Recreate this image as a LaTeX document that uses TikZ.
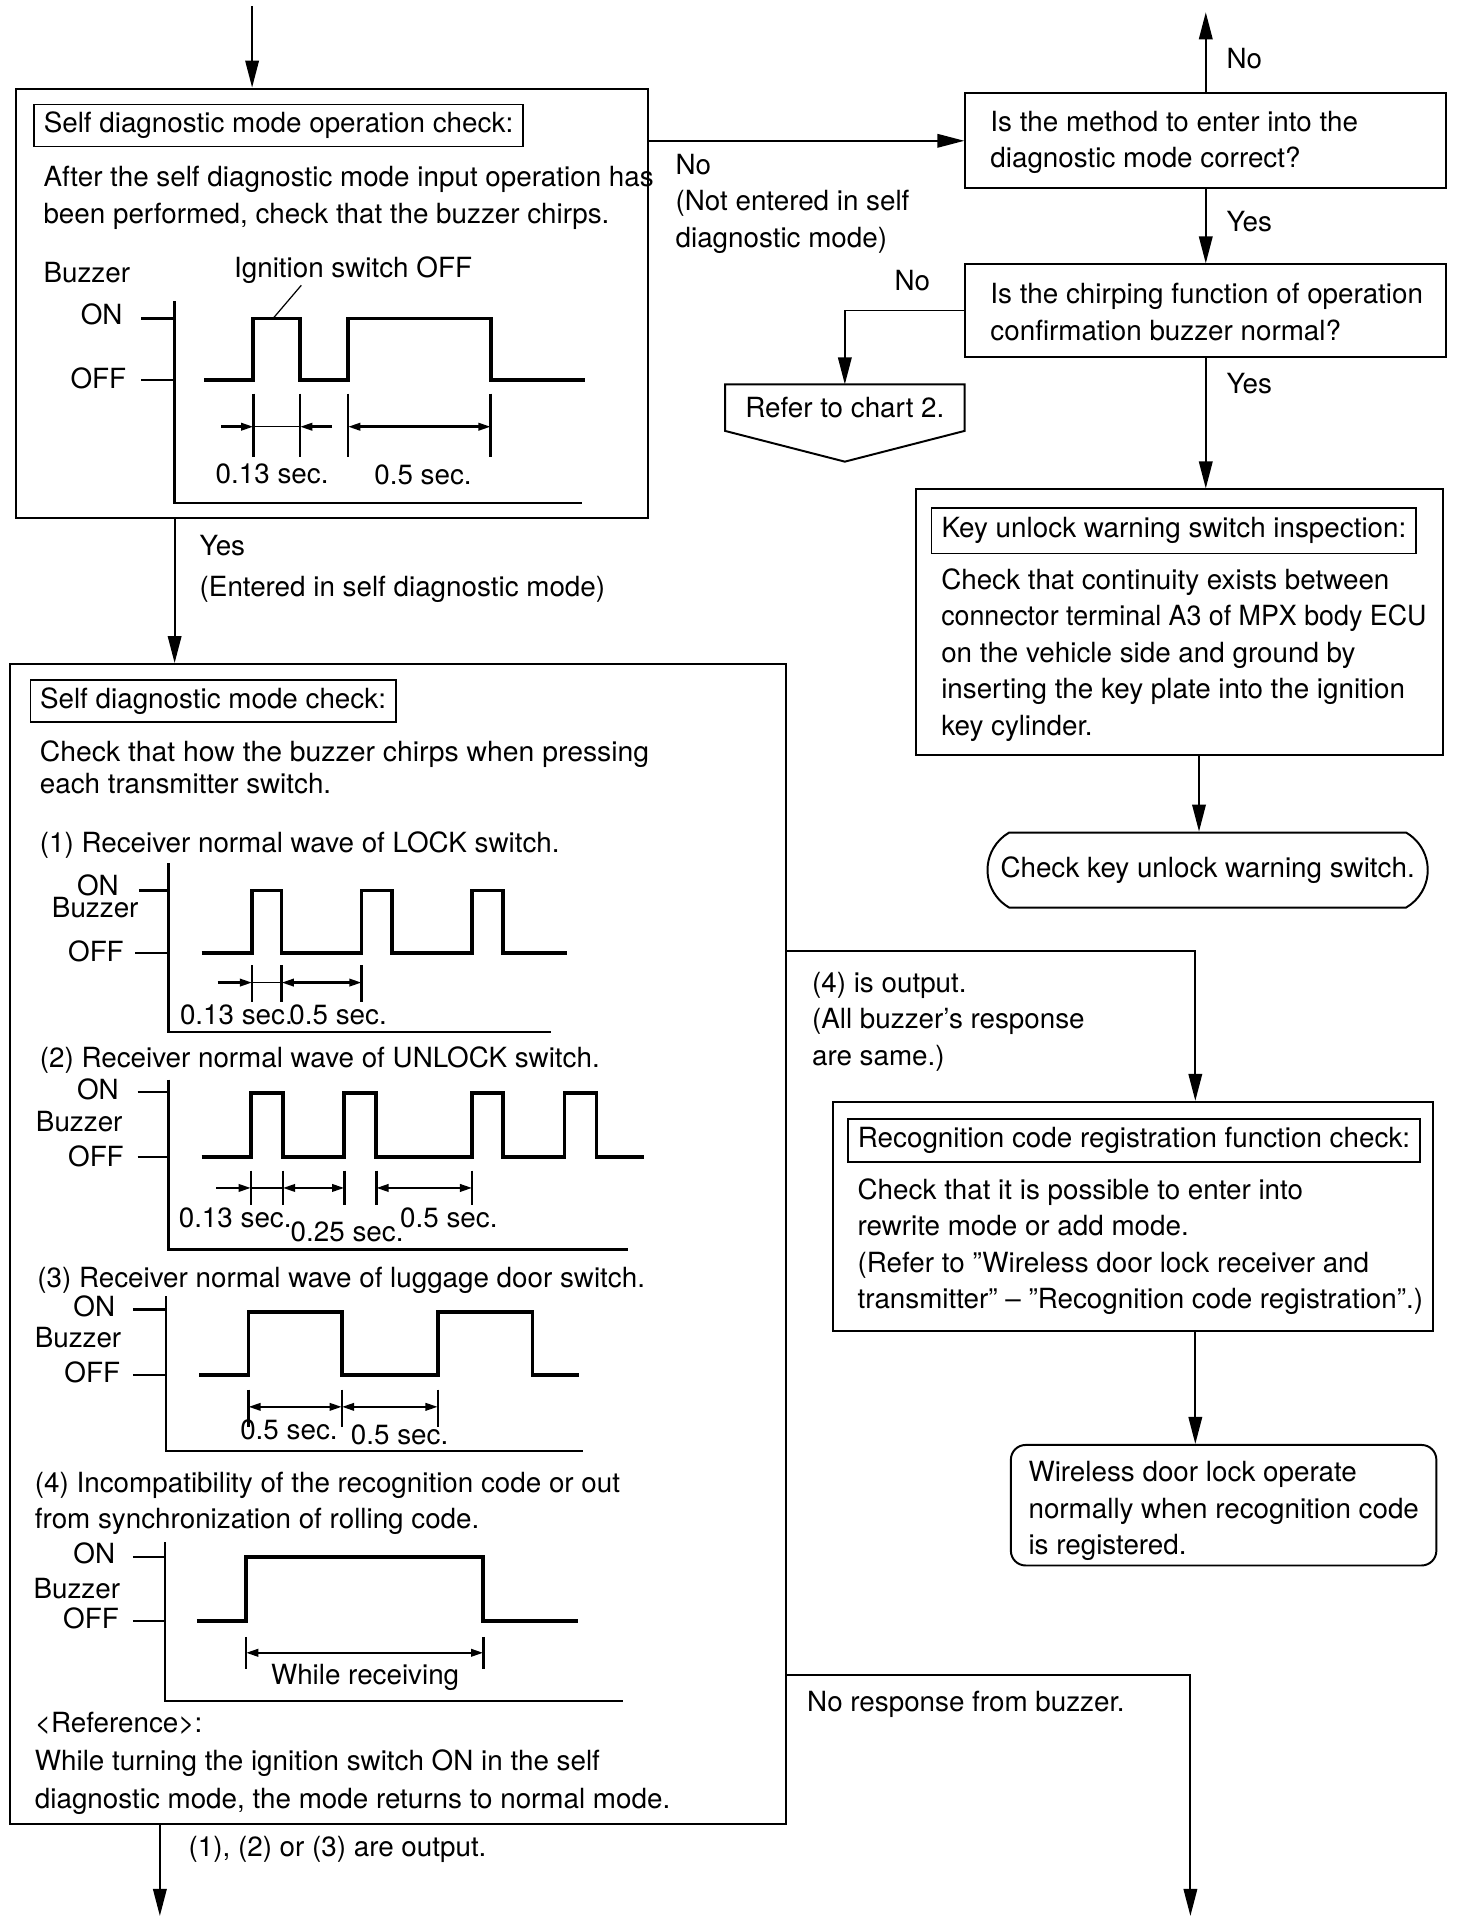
\documentclass[tikz,border=0pt]{standalone}
\usepackage{fontspec}
\setmainfont{TeX Gyre Heros}
\usetikzlibrary{arrows.meta,fit,shapes.misc}

\def\px{0.5pt}
\newcommand{\fs}[1]{\fontsize{11.3}{#1}\selectfont}

\tikzset{
  every node/.style={font=\fs{14.85}, inner sep=0pt},
  bigbox/.style={draw, line width=0.8pt, inner sep=0pt},
  ttl/.style={draw, line width=0.6pt, anchor=west, inner xsep=4pt, minimum height=17pt},
  txt/.style={anchor=north west, align=left},
  lbl/.style={anchor=west},
  lvl/.style={anchor=east},
  flow/.style={line width=0.8pt, -{Triangle[length=11pt,width=5.5pt]}},
  wave/.style={line width=1.5pt},
  axisln/.style={line width=1pt},
  dimtick/.style={line width=1pt},
  dimto/.style={line width=1pt, -{Triangle[length=5pt,width=3pt]}},
  dimboth/.style={line width=1pt, {Triangle[length=5pt,width=3pt]}-{Triangle[length=5pt,width=3pt]}},
}

\begin{document}
\begin{tikzpicture}[x=\px, y=-\px]
  \useasboundingbox (0,0) rectangle (1197,1567.8);

  % boxes
  \node[bigbox, fit={(13,72) (527,421)}] (opchk) {};
  \node[bigbox, fit={(785,76) (1176,153)}] (method) {};
  \node[bigbox, fit={(785,215) (1176,290)}] (chirp) {};
  \node[bigbox, fit={(745,398) (1173,614)}] (keyinsp) {};
  \node[bigbox, fit={(8,540) (639,1483)}] (modechk) {};
  \node[bigbox, fit={(677,896) (1165,1082)}] (recog) {};
  \node[bigbox, rounded corners=6pt, fit={(822,1175) (1168,1273)}] (wdl) {};
  \node[draw, rounded rectangle, rounded rectangle arc length=120, line width=0.8pt,
        minimum width=179pt, minimum height=30.5pt] (chkkey) at (982,707.5) {Check key unlock warning switch.};
  \node[minimum width=97pt, minimum height=18.5pt] (chart2) at (687,331.5) {Refer to chart 2.};
  \draw[line width=0.8pt] (chart2.north west) -- (chart2.north east) -- (chart2.south east)
    -- ([yshift=-12.5pt]chart2.south) -- (chart2.south west) -- cycle;

  % lanes
  \coordinate (topin) at (205,5);
  \coordinate (upout) at (978,10);
  \coordinate (yeslane) at (142,0);
  \coordinate (outlane) at (130,1558);
  \coordinate (keylane) at (975,0);
  \coordinate (lane4) at (972,773);
  \coordinate (lane5) at (968,1362);
  \coordinate (noresp) at (968,1558);

  % connectors
  \draw[flow] (topin) -- (topin |- opchk.north);
  \draw[flow] (method.west -| opchk.east) -- (method.west);
  \draw[flow] (method.north) -- (method.north |- upout);
  \draw[flow] (method.south) -- (chirp.north);
  \draw[flow] (chirp.west) -| (chart2.north);
  \draw[flow] (chirp.south) -- (chirp.south |- keyinsp.north);
  \draw[flow] (keylane |- keyinsp.south) -- (keylane |- chkkey.north);
  \draw[flow] (yeslane |- opchk.south) -- (yeslane |- modechk.north);
  \draw[flow] (outlane |- modechk.south) -- (outlane);
  \draw[flow] (lane4 -| modechk.east) -| (lane4 |- recog.north);
  \draw[flow] (lane4 |- recog.south) -- (lane4 |- wdl.north);
  \draw[flow] (lane5 -| modechk.east) -| (noresp);

  % connector labels
  \node[txt] (noentered) at (549,125) {No\\(Not entered in self\\diagnostic mode)};
  \node[lbl] (nomethod) at (997,48) {No};
  \node[lbl] (yesmethod) at (997,180) {Yes};
  \node[lbl] (nochirp) at (727,228) {No};
  \node[lbl] (yeschirp) at (997,312) {Yes};
  \node[txt, font=\fs{16.5}] (yesentered) at (162,435) {Yes\\(Entered in self diagnostic mode)};
  \node[txt] (out4) at (660,790) {(4) is output.\\(All buzzer's response\\are same.)};
  \node[lbl] (noresptxt) at (656,1386) {No response from buzzer.};
  \node[lbl] (out123) at (153,1504) {(1), (2) or (3) are output.};

  % operation check
  \node[ttl] (opchkttl) at (27,102) {Self diagnostic mode operation check:};
  \node[txt] (opchktxt) at (35,135) {After the self diagnostic mode input operation has\\been performed, check that the buzzer chirps.};
  \node[lbl] (bz0) at (35,222) {Buzzer};
  \node[lbl] (ign0) at (190,220) {Ignition switch OFF};
  \node[lvl] (on0) at (100,256) {ON};
  \node[lvl] (off0) at (103,308) {OFF};
  \node[lbl] (t0a) at (175,385) {0.13 sec.};
  \node[lbl] (t0b) at (304,386) {0.5 sec.};
  \draw[axisln] (142,245) -- (142,409) -- (473,409);
  \draw[axisln] (115,259) -- (142,259) (115,309) -- (142,309);
  \draw[wave] (166,309) -- (206,309) -- (206,259) -- (244,259) -- (244,309) -- (283,309)
    -- (283,259) -- (399,259) -- (399,309) -- (476,309);
  \draw[line width=0.5pt] (245,232) -- (222,259);
  \foreach \x in {206,244,283,399} {
    \draw[dimtick] (\x,320) -- (\x,372);
  }
  \draw[dimto] (180,347) -- (206,347);
  \draw[line width=0.5pt] (206,347) -- (244,347);
  \draw[dimto] (270,347) -- (244,347);
  \draw[dimboth] (283,347) -- (399,347);

  % method / chirp texts
  \node[txt] (methodtxt) at (805,90) {Is the method to enter into the\\diagnostic mode correct?};
  \node[txt] (chirptxt) at (805,230) {Is the chirping function of operation\\confirmation buzzer normal?};

  % key unlock inspection
  \node[ttl, minimum height=18.5pt] (keyttl) at (757,431.5) {Key unlock warning switch inspection:};
  \node[txt] (keytxt) at (765,462) {Check that continuity exists between\\\scalebox{0.965}[1]{connector terminal A3 of MPX body ECU}\\on the vehicle side and ground by\\inserting the key plate into the ignition\\key cylinder.};

  % self diagnostic mode check
  \node[ttl] (modettl) at (24,570) {Self diagnostic mode check:};
  \node[txt, font=\fs{13}] (modetxt) at (32,602) {\scalebox{1.02}[1]{Check that how the buzzer chirps when pressing}\\each transmitter switch.};

  % (1) LOCK
  \node[lbl] (w1ttl) at (32,687) {(1) Receiver normal wave of LOCK switch.};
  \node[lvl] (on1) at (97,720) {ON};
  \node[lvl] (bz1) at (113,738) {Buzzer};
  \node[lvl] (off1) at (101,774) {OFF};
  \draw[axisln] (137,702) -- (137,839) -- (448,839);
  \draw[axisln] (113,724) -- (137,724) (110,775) -- (137,775);
  \draw[wave] (164,775) -- (205,775) -- (205,724) -- (229,724) -- (229,775) -- (294,775)
    -- (294,724) -- (319,724) -- (319,775) -- (384,775) -- (384,724) -- (409,724)
    -- (409,775) -- (461,775);
  \foreach \x in {205,229,294} {
    \draw[dimtick] (\x,785) -- (\x,815);
  }
  \draw[dimto] (177,799) -- (205,799);
  \draw[line width=0.5pt] (205,799) -- (229,799);
  \draw[dimboth] (229,799) -- (294,799);
  \node[lbl] (t1a) at (146,825) {0.13 sec.};
  \node[lbl] (t1b) at (235,825) {0.5 sec.};

  % (2) UNLOCK
  \node[lbl] (w2ttl) at (32,862) {(2) Receiver normal wave of UNLOCK switch.};
  \node[lvl] (on2) at (97,886) {ON};
  \node[lvl] (bz2) at (100,912) {Buzzer};
  \node[lvl] (off2) at (101,940) {OFF};
  \draw[axisln] (137,878) -- (137,1016) -- (511,1016);
  \draw[axisln] (112,888) -- (137,888) (112,941) -- (137,941);
  \draw[wave] (164,941) -- (204,941) -- (204,889) -- (230,889) -- (230,941) -- (280,941)
    -- (280,889) -- (306,889) -- (306,941) -- (384,941) -- (384,889) -- (409,889)
    -- (409,941) -- (459,941) -- (459,889) -- (485,889) -- (485,941) -- (524,941);
  \foreach \x in {204,230,280,306,384} {
    \draw[dimtick] (\x,952) -- (\x,980);
  }
  \draw[dimto] (176,966) -- (204,966);
  \draw[line width=0.5pt] (204,966) -- (230,966);
  \draw[dimboth] (230,966) -- (280,966);
  \draw[dimboth] (306,966) -- (384,966);
  \node[lbl] (t2a) at (145,990) {0.13 sec.};
  \node[lbl] (t2b) at (236,1002) {0.25 sec.};
  \node[lbl] (t2c) at (325,990) {0.5 sec.};

  % (3) luggage door
  \node[lbl] (w3ttl) at (30,1041) {(3) Receiver normal wave of luggage door switch.};
  \node[lvl] (on3) at (94,1062) {ON};
  \node[lvl] (bz3) at (99,1088) {Buzzer};
  \node[lvl] (off3) at (98,1116) {OFF};
  \draw[axisln] (135,1054) -- (135,1180) -- (474,1180);
  \draw[axisln] (108,1065) -- (135,1065) (108,1118) -- (135,1118);
  \draw[wave] (162,1118) -- (202,1118) -- (202,1067) -- (278,1067) -- (278,1118) -- (356,1118)
    -- (356,1067) -- (433,1067) -- (433,1118) -- (471,1118);
  \foreach \x in {202,278,356} {
    \draw[dimtick] (\x,1130) -- (\x,1160);
  }
  \draw[dimboth] (202,1144) -- (278,1144);
  \draw[dimboth] (278,1144) -- (356,1144);
  \node[lbl] (t3a) at (195,1163) {0.5 sec.};
  \node[lbl] (t3b) at (285,1167) {0.5 sec.};

  % (4) incompatibility
  \node[txt, font=\fs{14.5}] (w4ttl) at (28,1197) {(4) Incompatibility of the recognition code or out\\from synchronization of rolling code.};
  \node[lvl] (on4) at (94,1263) {ON};
  \node[lvl] (bz4) at (98,1292) {Buzzer};
  \node[lvl] (off4) at (97,1316) {OFF};
  \draw[axisln] (134,1254) -- (134,1383) -- (507,1383);
  \draw[axisln] (108,1266) -- (134,1266) (108,1318) -- (134,1318);
  \draw[wave] (160,1318) -- (200,1318) -- (200,1266) -- (393,1266) -- (393,1318) -- (470,1318);
  \foreach \x in {200,393} {
    \draw[dimtick] (\x,1331) -- (\x,1357);
  }
  \draw[dimboth] (200,1344) -- (393,1344);
  \node[lbl] (t4a) at (220,1364) {While receiving};

  \node[txt, font=\fs{15.5}] (refnote) at (28,1392) {<Reference>:\\While turning the ignition switch ON in the self\\diagnostic mode, the mode returns to normal mode.};

  % recognition code check
  \node[ttl, minimum height=17.5pt] (recogttl) at (689,927.5) {Recognition code registration function check:};
  \node[txt] (recogtxt) at (697,958) {Check that it is possible to enter into\\rewrite mode or add mode.\\(Refer to ''Wireless door lock receiver and\\transmitter'' -- ''Recognition code registration''.)};
  \node[txt] (wdltxt) at (836,1188) {Wireless door lock operate\\normally when recognition code\\is registered.};
\end{tikzpicture}
\end{document}
